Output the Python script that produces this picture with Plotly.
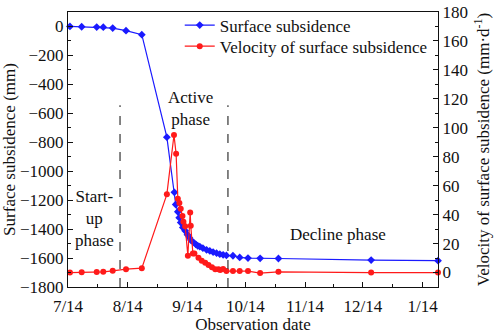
import pandas as pd
import plotly.graph_objects as go

start_date = "2019-07-14"

# Surface subsidence (left axis), days after start date
blue_days = [1, 7.1, 14.9, 18.3, 23.2, 30.1, 38.3, 51.3, 55.2, 55.9, 57.0, 57.7, 58.5, 59.6,
             60.8, 62.0, 63.0, 63.9, 65.1, 66.3, 67.3, 68.4, 70.0, 71.9, 73.6, 75.3, 77.1,
             78.8, 80.5, 82.2, 85.6, 89.1, 93.4, 99.7, 109.2, 157.3, 192]
subsidence = [0, -2, -4, -5, -11, -29, -57, -765, -1146, -1230, -1280, -1321, -1355, -1389,
              -1412, -1439, -1460, -1478, -1491, -1505, -1515, -1521, -1532, -1543, -1551, -1559, -1566,
              -1573, -1578, -1582, -1584, -1596, -1600, -1602, -1603, -1614, -1618]

# Velocity of surface subsidence (right axis)
red_days = [1, 7.1, 14.9, 18.3, 23.2, 30.1, 38.3, 51.3, 55.0, 56.1, 57.0, 57.8, 58.5, 59.4,
            59.9, 60.8, 62.2, 63.4, 63.7, 64.8, 65.6, 67.7, 69.4, 71.2, 72.9, 74.7, 76.4,
            78.1, 79.0, 80.5, 82.2, 85.6, 89.1, 93.4, 99.7, 109.2, 157.3, 192]
velocity = [0, 0.2, 0.3, 0.5, 1.2, 2.3, 3.0, 54, 95, 82, 51, 48, 44, 39,
            35, 32, 11.6, 41.5, 32.4, 13.2, 13.2, 10.2, 8.2, 6.8, 5.2, 3.7, 2.3,
            2.3, 1.8, 2.5, 1.0, 1.0, 1.0, 1.0, -0.4, 0.5, 0, 0]

tick_dates = ["2019-07-14", "2019-08-14", "2019-09-14", "2019-10-14", "2019-11-14", "2019-12-14", "2020-01-14"]
tick_labels = ["7/14", "8/14", "9/14", "10/14", "11/14", "12/14", "1/14"]
minor_dates = ["2019-07-29 12:00", "2019-08-29 12:00", "2019-09-29", "2019-10-29 12:00",
               "2019-11-29", "2019-12-29 12:00"]
phase_boundaries = ["2019-08-10", "2019-10-05"]
phase_labels = ["Start-<br>up<br>phase", "Active<br>phase", "Decline phase"]
phase_label_dates = ["2019-07-28", "2019-09-15 10:00", "2019-12-01"]

t0 = pd.Timestamp(start_date)
blue_x = [t0 + pd.Timedelta(days=d) for d in blue_days]
red_x = [t0 + pd.Timedelta(days=d) for d in red_days]

FONT = "Liberation Serif"
FS = 17
BLUE = "#1a1aff"
RED = "#ff1a1a"
INK = "#111111"

fig = go.Figure()
fig.add_trace(go.Scatter(x=blue_x, y=subsidence, name="Surface subsidence", mode="lines+markers",
                         line=dict(color=BLUE, width=1.2),
                         marker=dict(symbol="diamond", size=6, color=BLUE),
                         cliponaxis=False, legend="legend"))
fig.add_trace(go.Scatter(x=red_x, y=velocity, name="Velocity of surface subsidence", mode="lines+markers",
                         line=dict(color=RED, width=1.2),
                         marker=dict(symbol="circle", size=6, color=RED),
                         yaxis="y2", cliponaxis=False, legend="legend2"))

for d in phase_boundaries:
    fig.add_shape(type="line", xref="x", yref="y", x0=d, x1=d, y0=-1800, y1=-545,
                  line=dict(color="#333333", width=1.2, dash="dash"))

fig.add_annotation(x=phase_label_dates[0], y=-1330, xref="x", yref="y", text=phase_labels[0],
                   showarrow=False, font=dict(family=FONT, size=FS, color=INK))
fig.add_annotation(x=phase_label_dates[1], y=-570, xref="x", yref="y", text=phase_labels[1],
                   showarrow=False, font=dict(family=FONT, size=FS, color=INK))
fig.add_annotation(x=phase_label_dates[2], y=-1435, xref="x", yref="y", text=phase_labels[2],
                   showarrow=False, font=dict(family=FONT, size=FS, color=INK))

axis_common = dict(showline=True, linecolor=INK, linewidth=1.2, ticks="inside",
                   tickcolor=INK, ticklen=5, tickwidth=1, showgrid=False, zeroline=False,
                   automargin=False, ticklabeloverflow="allow",
                   tickfont=dict(family=FONT, size=FS, color=INK))

legend_common = dict(xanchor="left", x=0.302, yanchor="middle", bgcolor="rgba(0,0,0,0)",
                     font=dict(family=FONT, size=FS, color=INK), itemwidth=30)

fig.update_layout(
    width=498, height=334,
    margin=dict(l=68, r=60, t=7, b=47),
    paper_bgcolor="white", plot_bgcolor="white",
    font=dict(family=FONT, size=FS, color=INK),
    showlegend=True,
    legend=dict(**legend_common, y=0.951),
    legend2=dict(**legend_common, y=0.874),
    xaxis=dict(**axis_common, type="date", range=["2019-07-14", "2020-01-22"],
               tickmode="array", tickvals=tick_dates, ticktext=tick_labels, mirror=True,
               ticklabelstandoff=3,
               minor=dict(tickmode="array", tickvals=minor_dates, ticks="inside", ticklen=3,
                          tickcolor=INK),
               title=dict(text="Observation date", font=dict(family=FONT, size=FS), standoff=8)),
    yaxis=dict(**axis_common, range=[-1800, 100], tickmode="array",
               tickvals=[0, -200, -400, -600, -800, -1000, -1200, -1400, -1600, -1800],
               minor=dict(dtick=100, ticks="inside", ticklen=3, tickcolor=INK),
               title=dict(text="Surface subsidence (mm)", font=dict(family=FONT, size=FS), standoff=6)),
    yaxis2=dict(**axis_common, overlaying="y", side="right", range=[-10, 180], dtick=20,
                minor=dict(dtick=10, ticks="inside", ticklen=3, tickcolor=INK),
                title=dict(text="Velocity of surface subsidence (mm·d<sup>-1</sup>)",
                           font=dict(family=FONT, size=FS), standoff=10)),
)

fig.write_html("out.html", config={"displayModeBar": False},
               post_script="document.body.style.margin='0';")
